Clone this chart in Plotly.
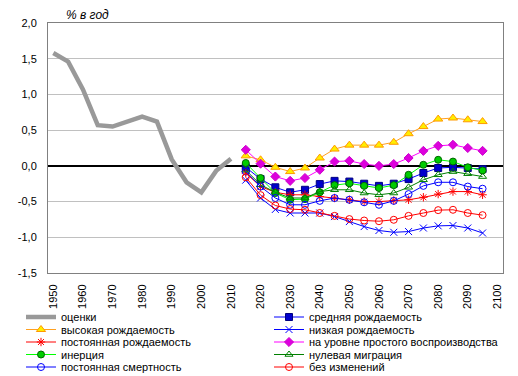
import plotly.graph_objects as go

est_years = [1950, 1955, 1960, 1965, 1970, 1975, 1980, 1985, 1990, 1995, 2000, 2005, 2010]
estimates = [1.58, 1.46, 1.07, 0.57, 0.55, 0.62, 0.69, 0.62, 0.09, -0.23, -0.37, -0.07, 0.10]

proj_years = [2015, 2020, 2025, 2030, 2035, 2040, 2045, 2050, 2055, 2060,
              2065, 2070, 2075, 2080, 2085, 2090, 2095]
medium = [-0.02, -0.185, -0.30, -0.37, -0.335, -0.255, -0.21, -0.22, -0.25, -0.28,
          -0.25, -0.185, -0.10, -0.03, -0.02, -0.03, -0.045]
high = [0.14, 0.085, -0.02, -0.08, -0.03, 0.11, 0.235, 0.29, 0.29, 0.29,
        0.33, 0.45, 0.55, 0.655, 0.67, 0.645, 0.62]
low = [-0.20, -0.45, -0.61, -0.66, -0.66, -0.66, -0.71, -0.78, -0.85, -0.905,
       -0.93, -0.92, -0.87, -0.84, -0.835, -0.87, -0.94]
const_fert = [-0.10, -0.29, -0.37, -0.405, -0.405, -0.43, -0.45, -0.475, -0.50, -0.50,
              -0.485, -0.475, -0.44, -0.395, -0.36, -0.36, -0.405]
replacement = [0.225, 0.03, -0.15, -0.21, -0.17, -0.055, 0.06, 0.07, 0.025, 0.0,
               0.025, 0.11, 0.21, 0.28, 0.295, 0.25, 0.21]
inertia = [0.04, -0.17, -0.38, -0.475, -0.465, -0.37, -0.27, -0.245, -0.28, -0.31,
           -0.27, -0.125, 0.015, 0.085, 0.06, -0.02, -0.065]
zero_migr = [-0.06, -0.265, -0.37, -0.45, -0.45, -0.36, -0.335, -0.335, -0.38, -0.405,
             -0.38, -0.30, -0.195, -0.125, -0.08, -0.11, -0.15]
const_mort = [-0.08, -0.29, -0.45, -0.545, -0.545, -0.49, -0.45, -0.475, -0.51, -0.545,
              -0.49, -0.395, -0.28, -0.23, -0.23, -0.29, -0.32]
no_change = [-0.16, -0.41, -0.555, -0.605, -0.615, -0.66, -0.70, -0.745, -0.765, -0.775,
             -0.755, -0.70, -0.66, -0.62, -0.615, -0.66, -0.69]

y_tickvals = [-1.5, -1.0, -0.5, 0.0, 0.5, 1.0, 1.5, 2.0]
y_ticktext = ["-1,5", "-1,0", "-0,5", "0,0", "0,5", "1,0", "1,5", "2,0"]
x_tickvals = list(range(1950, 2101, 10))

FONT = "Liberation Sans, Arial, sans-serif"

fig = go.Figure()

def add(name, x, y, color, symbol, fill, border, size, legend, lw=1):
    fig.add_trace(go.Scatter(
        x=x, y=y, name=name, mode="lines+markers", legend=legend,
        line=dict(color=color, width=lw),
        marker=dict(symbol=symbol, size=size, color=fill,
                    line=dict(color=border, width=1)),
    ))

# row 1
fig.add_trace(go.Scatter(x=est_years, y=estimates, name="оценки", mode="lines",
                         legend="legend", line=dict(color="#999999", width=4.5)))
add("средняя рождаемость", proj_years, medium, "#0000ff", "square", "#0000cc", "#000080", 7, "legend")
# row 2
add("высокая рождаемость", proj_years, high, "#ffa020", "triangle-up", "#ffee00", "#ff9900", 8, "legend2")
add("низкая рождаемость", proj_years, low, "#0000ff", "x-thin", "#0000ff", "#0000ff", 7, "legend2")
# row 3
add("постоянная рождаемость", proj_years, const_fert, "#ff0000", "asterisk", "#ff0000", "#ff0000", 7, "legend3")
add("на уровне простого воспроизводства", proj_years, replacement, "#ff00ff", "diamond", "#dd00dd", "#cc00cc", 7, "legend3")
# row 4
add("инерция", proj_years, inertia, "#00ff00", "circle", "#00cc00", "#006600", 7, "legend4")
add("нулевая миграция", proj_years, zero_migr, "#008000", "triangle-up-open", "#008000", "#008000", 7, "legend4")
# row 5
add("постоянная смертность", proj_years, const_mort, "#0000ff", "circle-open", "#0000ff", "#0000ff", 7, "legend5")
add("без изменений", proj_years, no_change, "#ff0000", "circle-open", "#ff0000", "#ff0000", 7, "legend5")

# the page body has an 8px margin, so the figure is laid out 8px smaller
OFF = 8
W, H = 518 - OFF, 376 - OFF
L, T = 48 - OFF, 23 - OFF
R = 518 - 503
B = 376 - 273
plot_h = H - T - B
plot_w = W - L - R

def ypaper(page_px):
    return (H - B - (page_px - OFF)) / plot_h

def xpaper(page_px):
    return ((page_px - OFF) - L) / plot_w

leg_common = dict(orientation="h", xanchor="left", yanchor="middle",
                  x=xpaper(21), entrywidth=203, entrywidthmode="pixels",
                  bgcolor="rgba(0,0,0,0)", borderwidth=0,
                  font=dict(family=FONT, size=11, color="#000000"),
                  tracegroupgap=0, itemwidth=30)
rows_px = [317, 329.5, 342, 354.5, 367]
legends = {}
for i, ypx in enumerate(rows_px):
    key = "legend" if i == 0 else f"legend{i+1}"
    legends[key] = dict(leg_common, y=ypaper(ypx))

fig.update_layout(
    width=W, height=H,
    template="none",
    paper_bgcolor="#ffffff", plot_bgcolor="#ffffff",
    margin=dict(l=L, r=R, t=T, b=B, autoexpand=False),
    font=dict(family=FONT, size=11, color="#000000"),
    showlegend=True,
    **legends,
    xaxis=dict(range=[1948.2, 2101.9], tickvals=x_tickvals, tickangle=-90,
               showgrid=False, zeroline=False, showline=True, linecolor="#808080",
               linewidth=1, mirror=True, ticks="", ticklabelstandoff=6,
               tickfont=dict(family=FONT, size=11), automargin=False),
    yaxis=dict(range=[-1.5, 2.0], tickvals=y_tickvals, ticktext=y_ticktext,
               showgrid=True, gridcolor="#c0c0c0", gridwidth=1,
               zeroline=True, zerolinecolor="#000000", zerolinewidth=1.5,
               showline=True, linecolor="#808080", linewidth=1, mirror=True,
               ticks="", ticklabelstandoff=8,
               tickfont=dict(family=FONT, size=11), automargin=False),
    annotations=[dict(text="% в год", xref="paper", yref="paper",
                      x=xpaper(64), y=ypaper(15.5), xanchor="left", yanchor="middle",
                      showarrow=False,
                      font=dict(family=FONT, size=12, style="italic"))],
)

fig.write_html("out.html")
